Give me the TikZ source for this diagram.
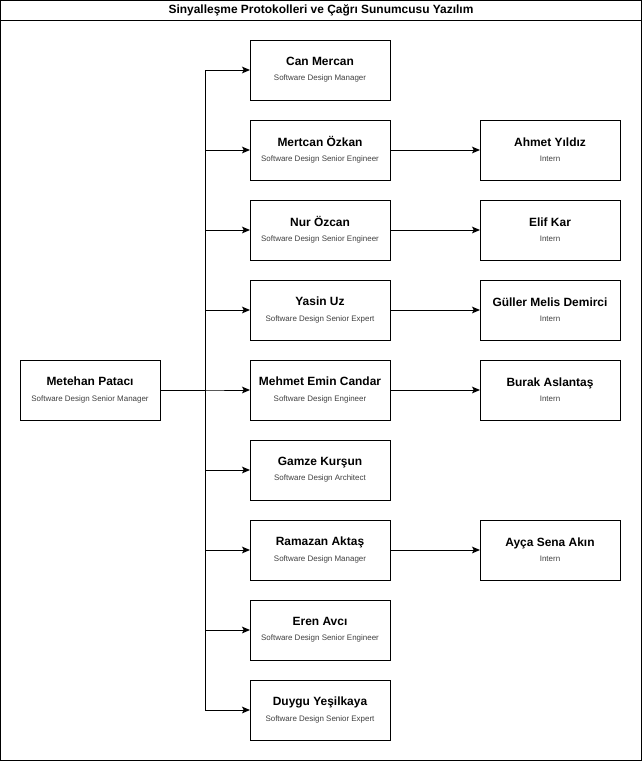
\documentclass[tikz,border=0pt]{standalone}
\usepackage{fontspec}
\setmainfont{Liberation Sans}
\usepackage{tikz}
\usetikzlibrary{positioning,calc,arrows.meta}
\def\BoxWidth{4.2cm}
\def\BoxHeight{1.8cm}
\def\BoxGap{0.6cm}
\def\ColGap{2.7cm}
\newcommand{\staff}[2]{{\fontsize{10.2}{12}\selectfont\bfseries #1}\\[1pt]{\fontsize{6.8}{8}\selectfont\color{black!75}#2}}

\begin{document}
\begin{tikzpicture}[
		person/.style={draw,line width=0.8pt,minimum width=\BoxWidth,minimum height=\BoxHeight,align=center,inner sep=0pt,outer sep=0pt},
		link/.style={line width=0.8pt,-{Stealth[length=0.24cm,width=0.2cm,inset=0.05cm]}},
	]
			\useasboundingbox (0,0) rectangle (19.26,-22.83);
			% frame and title
			\draw[line width=0.8pt] (0.015,-0.015) rectangle (19.245,-22.815);
			\draw[line width=0.8pt] (0.015,-0.6) -- (19.245,-0.6);
			\node[font=\fontsize{10.2}{12}\selectfont\bfseries] (title) at (9.63,-0.3) {Sinyalleşme Protokolleri ve Çağrı Sunumcusu Yazılım};
			% 
			\node[person] (can) at (9.6,-2.1) {\staff{Can Mercan}{Software Design Manager}};
			\node[person,below=\BoxGap of can] (mertcan) {\staff{Mertcan Özkan}{Software Design Senior Engineer}};
			\node[person,below=\BoxGap of mertcan] (nur) {\staff{Nur Özcan}{Software Design Senior Engineer}};
			\node[person,below=\BoxGap of nur] (yasin) {\staff{Yasin Uz}{Software Design Senior Expert}};
			\node[person,below=\BoxGap of yasin] (mehmet) {\staff{Mehmet Emin Candar}{Software Design Engineer}};
			\node[person,below=\BoxGap of mehmet] (gamze) {\staff{Gamze Kurşun}{Software Design Architect}};
			\node[person,below=\BoxGap of gamze] (ramazan) {\staff{Ramazan Aktaş}{Software Design Manager}};
			\node[person,below=\BoxGap of ramazan] (eren) {\staff{Eren Avcı}{Software Design Senior Engineer}};
			\node[person,below=\BoxGap of eren] (duygu) {\staff{Duygu Yeşilkaya}{Software Design Senior Expert}};
			% 
			\node[person,left=\ColGap of mehmet] (metehan) {\staff{Metehan Patacı}{Software Design Senior Manager}};
			% 
			\node[person,right=\ColGap of mertcan] (ahmet) {\staff{Ahmet Yıldız}{Intern}};
			\node[person,right=\ColGap of nur] (elif) {\staff{Elif Kar}{Intern}};
			\node[person,right=\ColGap of yasin] (guller) {\staff{Güller Melis Demirci}{Intern}};
			\node[person,right=\ColGap of mehmet] (burak) {\staff{Burak Aslantaş}{Intern}};
			\node[person,right=\ColGap of ramazan] (ayca) {\staff{Ayça Sena Akın}{Intern}};
			% 
			\coordinate (trunk) at ($(metehan.east)+(1.35cm,0)$);
			\foreach \n in {can,mertcan,nur,yasin,mehmet,gamze,ramazan,eren,duygu}
				\draw[link] (metehan.east) -- (trunk) |- (\n.west);
			\draw[link] (mertcan) -- (ahmet);
			\draw[link] (nur) -- (elif);
			\draw[link] (yasin) -- (guller);
			\draw[link] (mehmet) -- (burak);
			\draw[link] (ramazan) -- (ayca);
		\end{tikzpicture}
\end{document}
